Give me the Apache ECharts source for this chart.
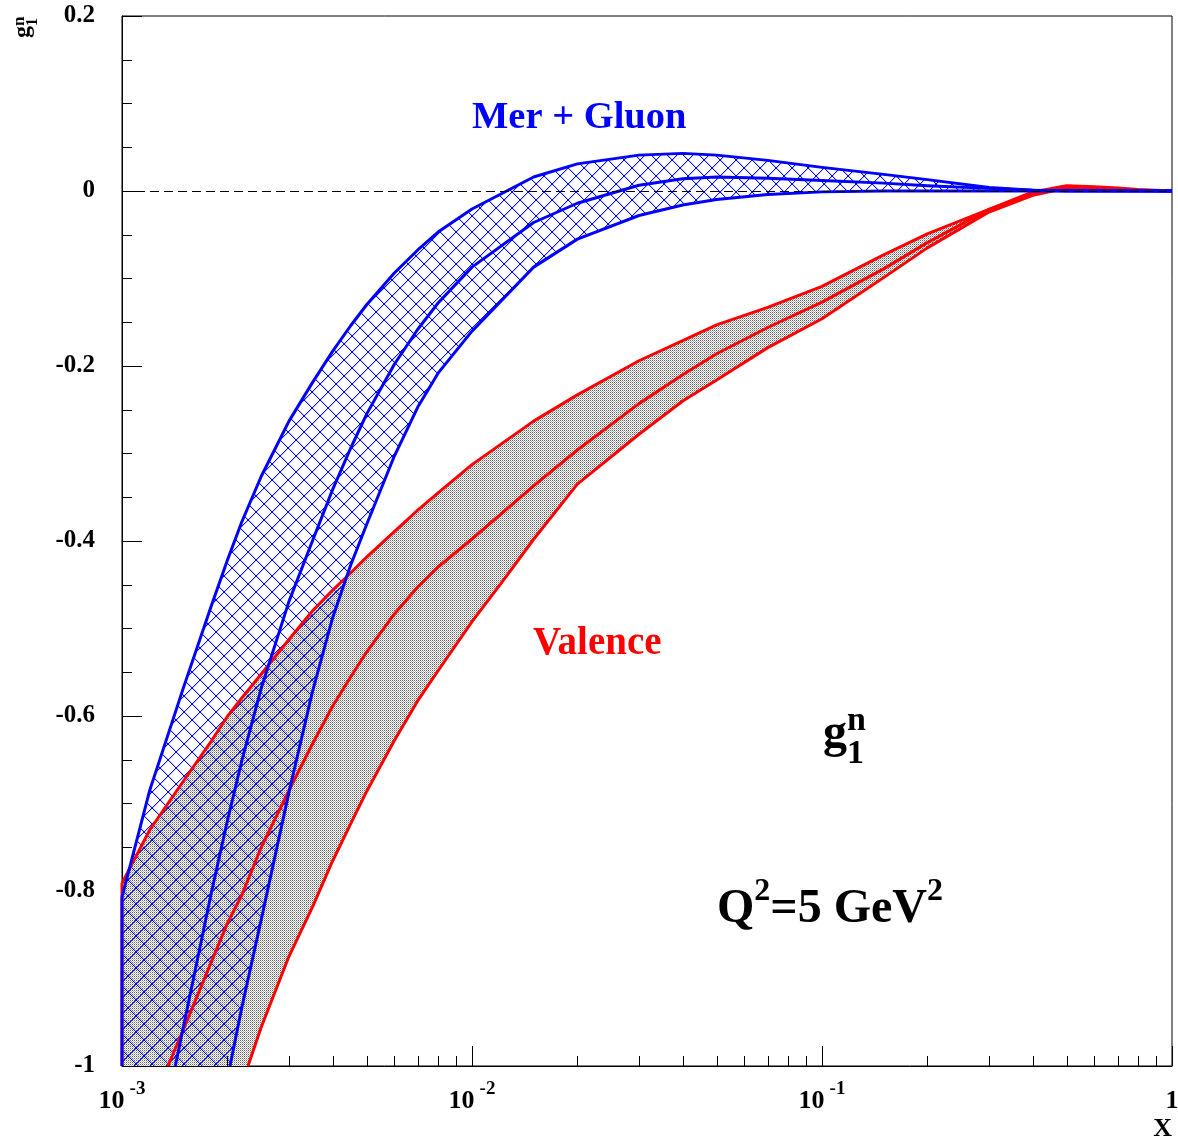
<!DOCTYPE html>
<html><head><meta charset="utf-8">
<script src="https://cdn.jsdelivr.net/npm/echarts@6/dist/echarts.min.js"></script>
<style>html,body{margin:0;padding:0;background:#fff}#c{width:1178px;height:1142px}</style>
</head><body><div id="c"></div>
<script>
// ---------------- data ----------------
const Y_MIN = -1, Y_MAX = 0.2, X_MIN = 0.001, X_MAX = 1;
const yTickLabels = ['-1', '-0.8', '-0.6', '-0.4', '-0.2', '0', '0.2'];
const xMinorTicks = [0.002,0.003,0.004,0.005,0.006,0.007,0.008,0.009,
                     0.02,0.03,0.04,0.05,0.06,0.07,0.08,0.09,
                     0.2,0.3,0.4,0.5,0.6,0.7,0.8,0.9];

// "Mer + Gluon" band (blue, cross-hatched)
const mgUpperX = [0.001,0.0012,0.0015,0.0018,0.002,0.0022,0.0025,0.003,0.0035,0.004,0.0045,0.005,0.006,0.007,0.008,0.01,0.015,0.02,0.03,0.04,0.05,0.07,0.1,0.15,0.2,0.3,0.4,0.5,1];
const mgUpperY = [-0.807,-0.685,-0.567,-0.474,-0.422,-0.378,-0.326,-0.263,-0.219,-0.183,-0.154,-0.130,-0.0937,-0.0674,-0.0469,-0.0206,0.016,0.031,0.041,0.043,0.041,0.035,0.027,0.019,0.013,0.004,0.001,0.0005,0];
const mgMidX = [0.00142,0.0015,0.0018,0.002,0.0022,0.0025,0.003,0.0035,0.004,0.0045,0.005,0.006,0.007,0.008,0.01,0.015,0.02,0.03,0.04,0.05,0.07,0.1,0.15,0.2,0.3,0.4,0.5,1];
const mgMidY = [-1.0,-0.954,-0.802,-0.72,-0.651,-0.568,-0.469,-0.40,-0.341,-0.294,-0.255,-0.198,-0.158,-0.128,-0.087,-0.036,-0.014,0.0065,0.014,0.016,0.0145,0.012,0.009,0.006,0.003,0.001,0,0];
const mgLowX = [0.002035,0.0022,0.0025,0.003,0.0035,0.004,0.0045,0.005,0.006,0.007,0.008,0.01,0.015,0.02,0.03,0.04,0.05,0.07,0.1,0.15,1];
const mgLowY = [-1.0,-0.933,-0.8325,-0.687,-0.5725,-0.4874,-0.4277,-0.3811,-0.3029,-0.2469,-0.2082,-0.1602,-0.087,-0.055,-0.028,-0.016,-0.0097,-0.004,-0.001,0,0];

// "Valence" band (red, grey dotted)
const valUpperX = [0.001,0.0012,0.0015,0.0018,0.002,0.0022,0.0025,0.003,0.0035,0.004,0.0045,0.005,0.006,0.007,0.008,0.01,0.015,0.02,0.03,0.04,0.05,0.07,0.1,0.15,0.2,0.3,0.4,0.5,0.6,0.7,0.8,1];
const valUpperY = [-0.791,-0.7303,-0.674,-0.6286,-0.6006,-0.5794,-0.552,-0.5126,-0.48,-0.456,-0.4366,-0.4185,-0.3893,-0.3646,-0.3451,-0.3127,-0.263,-0.233,-0.194,-0.171,-0.153,-0.133,-0.109,-0.073,-0.049,-0.021,-0.001,0.006,0.005,0.0034,0.0017,0];
const valMidX = [0.001353,0.0015,0.0018,0.002,0.0022,0.0025,0.003,0.0035,0.004,0.0045,0.005,0.006,0.007,0.008,0.01,0.015,0.02,0.03,0.04,0.05,0.07,0.1,0.15,0.2,0.3,0.4,0.5,0.6,0.7,0.8,1];
const valMidY = [-1.0,-0.9577,-0.881,-0.837,-0.8046,-0.75,-0.685,-0.632,-0.5886,-0.5554,-0.5269,-0.4834,-0.4526,-0.4297,-0.3977,-0.337,-0.296,-0.243,-0.210,-0.186,-0.156,-0.127,-0.089,-0.059,-0.021,-0.003,0.005,0.004,0.002,0.001,0];
const valLowX = [0.002291,0.0025,0.003,0.0035,0.004,0.0045,0.005,0.006,0.007,0.008,0.01,0.0125,0.015,0.02,0.03,0.04,0.05,0.07,0.1,0.15,0.2,0.3,0.4,0.5,0.6,0.7,0.8,1];
const valLowY = [-1.0,-0.9554,-0.8746,-0.8185,-0.7654,-0.7232,-0.6862,-0.6279,-0.5825,-0.5483,-0.4921,-0.441,-0.398,-0.335,-0.278,-0.240,-0.216,-0.179,-0.146,-0.099,-0.065,-0.024,-0.005,0.0035,0.0035,0.002,0.0005,0];

// ---------------- helpers ----------------
const zip = (xs, ys) => xs.map((x, i) => [x, ys[i]]);
const FONT = '"Liberation Serif", "Times New Roman", serif';
const BLUE = '#0000ff', RED = '#ff0000';

function hatchTile() {
  const P = 16, c = document.createElement('canvas');
  c.width = P; c.height = P;
  const g = c.getContext('2d');
  g.fillStyle = 'rgba(0,0,255,1)';
  for (let i = 0; i < P; i++) { g.fillRect(i, i, 1, 1); g.fillRect(P - 1 - i, i, 1, 1); }
  g.fillStyle = 'rgba(0,0,255,0.2)';
  for (let i = 0; i < P; i++) { g.fillRect((i + 1) % P, i, 1, 1); g.fillRect((P - i) % P, i, 1, 1); }
  return c;
}
function dotTile() {
  const c = document.createElement('canvas');
  c.width = 2; c.height = 2;
  const g = c.getContext('2d');
  g.fillStyle = '#ffffff'; g.fillRect(0, 0, 2, 2);
  g.fillStyle = '#606060'; g.fillRect(0, 0, 1, 1);
  g.fillStyle = '#b4b4b4'; g.fillRect(1, 1, 1, 1);
  return c;
}
const hatchFill = { image: hatchTile(), repeat: 'repeat' };
const dotFill = { image: dotTile(), repeat: 'repeat' };

function bandRenderer(upX, upY, loX, loY, fill, edgeColor, edgeWidth) {
  return function (params, api) {
    const pts = [];
    for (let i = 0; i < upX.length; i++) pts.push(api.coord([upX[i], upY[i]]));
    for (let i = loX.length - 1; i >= 0; i--) pts.push(api.coord([loX[i], loY[i]]));
    pts.push(api.coord([upX[0], Y_MIN]));
    const top = api.coord([upX[0], upY[0]]);
    const bot = api.coord([upX[0], Y_MIN]);
    return { type: 'group', children: [
      { type: 'polygon', shape: { points: pts }, style: { fill: fill } },
      { type: 'line', shape: { x1: top[0], y1: top[1], x2: bot[0], y2: bot[1] },
        style: { stroke: edgeColor, lineWidth: edgeWidth } }
    ]};
  };
}
function lineSeries(xs, ys, color, width, extra) {
  return Object.assign({
    type: 'line', data: zip(xs, ys), showSymbol: false, symbol: 'none',
    lineStyle: { color: color, width: width, join: 'round' }, clip: true,
    silent: true, animation: false
  }, extra || {});
}

// text measuring for annotations
const mctx = document.createElement('canvas').getContext('2d');
function measure(t, size) { mctx.font = 'bold ' + size + 'px ' + FONT; return mctx.measureText(t).width; }
const MID = 0.32;
function T(text, x, base, size, color, align) {
  return { type: 'text', x: x, y: base - MID * size, silent: true,
    style: { text: text, fill: color || '#000', font: 'bold ' + size + 'px ' + FONT,
      align: align || 'left', verticalAlign: 'middle',
      textAlign: align || 'left', textVerticalAlign: 'middle' } };
}
function seq(parts, x0, color) {
  const out = []; let x = x0;
  parts.forEach(p => { out.push(T(p[0], x, p[2], p[1], color)); x += measure(p[0], p[1]); });
  return out;
}

const graphics = [];
graphics.push(T('Mer + Gluon', 472, 130, 38.5, BLUE));
graphics.push(T('Valence', 533, 656, 39, RED));
// g_1^n annotation
const gw = measure('g', 48);
graphics.push(T('g', 823, 750, 48));
graphics.push(T('n', 823 + gw, 732, 34));
graphics.push(T('1', 823 + gw, 765, 34));
// Q^2=5 GeV^2
seq([['Q', 48, 925], ['2', 32, 902], ['=5 GeV', 48, 925], ['2', 32, 902]], 717).forEach(e => graphics.push(e));
// axis title X
graphics.push(T('X', 1172, 1138, 26, '#000', 'right'));
// rotated y title g_1^n
const gw2 = measure('g', 24);
graphics.push({ type: 'group', x: 30, y: 38, rotation: Math.PI / 2, silent: true, children: [
  T('g', 0, 0, 24), T('n', gw2, -5, 17), T('1', gw2, 8, 16)
]});

// ---------------- chart ----------------
const chart = echarts.init(document.getElementById('c'), null, { renderer: 'canvas' });
chart.setOption({
  animation: false,
  backgroundColor: '#ffffff',
  grid: { left: 122, top: 16, width: 1050, height: 1050, show: true, borderColor: '#000', borderWidth: 1,
          backgroundColor: 'transparent', containLabel: false, outerBoundsMode: 'none' },
  xAxis: {
    type: 'log', logBase: 10, min: X_MIN, max: X_MAX, splitNumber: 3,
    axisLine: { show: true, onZero: false, lineStyle: { color: '#000', width: 1 } },
    axisTick: { show: true, inside: true, length: 20, lineStyle: { color: '#000', width: 1 } },
    minorTick: { show: false }, splitLine: { show: false },
    axisLabel: {
      margin: 14, showMinLabel: true, showMaxLabel: true, hideOverlap: false,
      formatter: v => { const e = Math.round(Math.log10(v)); return e === 0 ? '{b|1}' : '{b|10}{e|' + e + '}'; },
      rich: {
        b: { fontFamily: FONT, fontWeight: 'bold', fontSize: 26, color: '#000', lineHeight: 34, verticalAlign: 'bottom' },
        e: { fontFamily: FONT, fontWeight: 'bold', fontSize: 19, color: '#000', lineHeight: 19, verticalAlign: 'top', padding: [0, 0, 0, 5] }
      }
    }
  },
  yAxis: {
    type: 'value', min: Y_MIN, max: Y_MAX, interval: 0.2,
    axisLine: { show: true, onZero: false, lineStyle: { color: '#000', width: 1 } },
    axisTick: { show: true, inside: true, length: 20, lineStyle: { color: '#000', width: 1 } },
    minorTick: { show: true, splitNumber: 4, length: 10, lineStyle: { color: '#000', width: 1 } },
    splitLine: { show: false }, minorSplitLine: { show: false },
    axisLabel: {
      margin: 27, color: '#000', fontFamily: FONT, fontWeight: 'bold', fontSize: 25,
      formatter: v => { const r = Math.round(v * 10) / 10; const i = Math.round((r - Y_MIN) / 0.2); return yTickLabels[i] !== undefined ? yTickLabels[i] : String(r); }
    }
  },
  series: [
    { type: 'custom', renderItem: bandRenderer(valUpperX, valUpperY, valLowX, valLowY, dotFill, RED, 3),
      data: [[0.01, -0.5]], encode: { x: 0, y: 1 }, silent: true, animation: false },
    lineSeries(valUpperX, valUpperY, RED, 3, {
      markLine: { silent: true, symbol: ['none', 'none'], label: { show: false }, animation: false,
        lineStyle: { color: '#000', type: [9, 5], width: 1 }, data: [{ yAxis: 0 }] } }),
    lineSeries(valMidX, valMidY, RED, 3),
    lineSeries(valLowX, valLowY, RED, 3),
    { type: 'custom', renderItem: bandRenderer(mgUpperX, mgUpperY, mgLowX, mgLowY, hatchFill, BLUE, 3),
      data: [[0.01, -0.5]], encode: { x: 0, y: 1 }, silent: true, animation: false },
    lineSeries(mgUpperX, mgUpperY, BLUE, 3),
    lineSeries(mgMidX, mgMidY, BLUE, 3),
    lineSeries(mgLowX, mgLowY, BLUE, 3),
    { type: 'custom', silent: true, animation: false, encode: { x: 0, y: 1 },
      data: xMinorTicks.map(v => [v, Y_MIN]),
      renderItem: (params, api) => {
        const p = api.coord([api.value(0), Y_MIN]);
        const x = Math.round(p[0]) + 0.5;
        return { type: 'line', shape: { x1: x, y1: p[1], x2: x, y2: p[1] - 10 }, style: { stroke: '#000', lineWidth: 1 } };
      } }
  ],
  graphic: { elements: graphics }
});
</script>
</body></html>
